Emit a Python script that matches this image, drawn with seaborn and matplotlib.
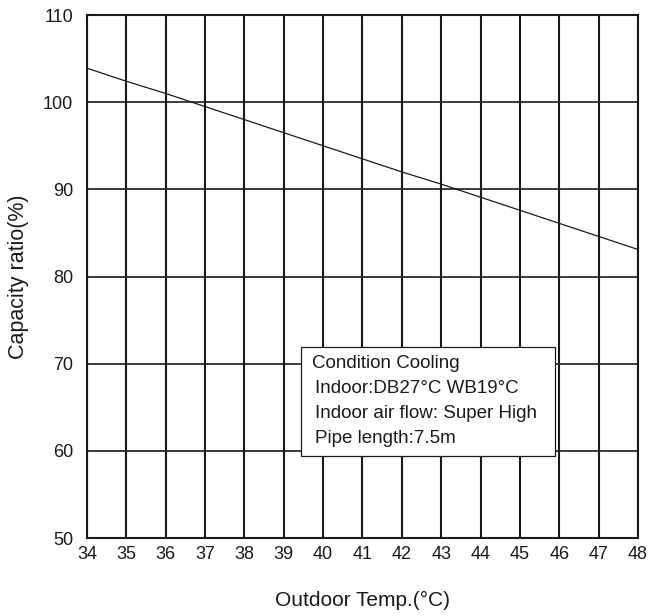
import matplotlib
matplotlib.use("Agg")
import matplotlib.pyplot as plt
import seaborn as sns
import pandas as pd
from matplotlib.patches import Rectangle

outdoor_temp = [34, 35, 36, 37, 38, 39, 40, 41, 42, 43, 44, 45, 46, 47, 48]
capacity = [103.9, 102.4, 101.0, 99.5, 98.0, 96.5, 95.0, 93.5, 92.0, 90.6,
            89.1, 87.6, 86.1, 84.6, 83.1]
x_ticks = list(range(34, 49))
y_ticks = [50, 60, 70, 80, 90, 100, 110]
note_lines = ["Condition Cooling",
              "Indoor:DB27°C WB19°C",
              "Indoor air flow: Super High",
              "Pipe length:7.5m"]

sns.set_style("white")
plt.rcParams["font.family"] = ["Liberation Sans", "DejaVu Sans"]

df = pd.DataFrame({"temp": outdoor_temp, "cap": capacity})

fig = plt.figure(figsize=(6.5, 6.16), dpi=100)
ax = fig.add_axes([0.1338, 0.1266, 0.8477, 0.849])

for xv in x_ticks:
    ax.axvline(xv, color="#1a1a1a", lw=1.5, zorder=1)
for yv in y_ticks:
    ax.axhline(yv, color="#1a1a1a", lw=1.2, zorder=1)

sns.lineplot(data=df, x="temp", y="cap", ax=ax, color="#1a1a1a", lw=0.9, zorder=3)

# boîte de légende des conditions d'essai
ax.add_patch(Rectangle((39.44, 59.4), 6.45, 12.55, facecolor="white",
                       edgecolor="#1a1a1a", lw=0.9, zorder=4))
for i, line in enumerate(note_lines):
    x0 = 39.72 if i == 0 else 39.80
    ax.text(x0, 70.0 - i * 2.85, line, fontsize=13.5, va="center",
            ha="left", color="#1a1a1a", zorder=5)

ax.set_xlim(34, 48)
ax.set_ylim(50, 110)
ax.set_xticks(x_ticks)
ax.set_yticks(y_ticks)
ax.tick_params(length=0, labelsize=13, colors="#1a1a1a")
ax.tick_params(axis="y", pad=10)
ax.tick_params(axis="x", pad=6)
for s in ax.spines.values():
    s.set_linewidth(1.5)
    s.set_color("#1a1a1a")

ax.set_xlabel("Outdoor Temp.(°C)", fontsize=15, color="#1a1a1a", labelpad=20)
ax.set_ylabel("Capacity ratio(%)", fontsize=15.5, color="#1a1a1a", labelpad=10)

fig.savefig("out.png", dpi=100)
